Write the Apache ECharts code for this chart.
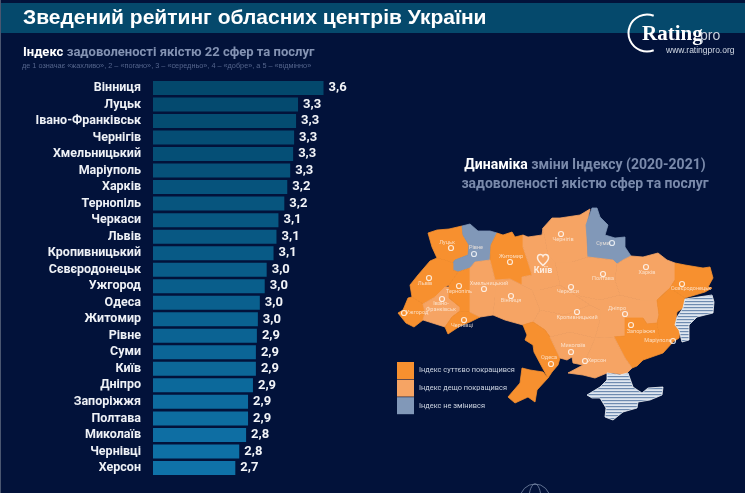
<!DOCTYPE html>
<html>
<head>
<meta charset="utf-8">
<style>
  html, body { margin: 0; padding: 0; background: #02123a; }
  #chart { width: 745px; height: 493px; }
</style>
<script src="https://cdn.jsdelivr.net/npm/echarts@6/dist/echarts.min.js"></script>
</head>
<body>
<div id="chart"></div>
<script>
var cities = ['Вінниця', 'Луцьк', 'Івано-Франківськ', 'Чернігів', 'Хмельницький', 'Маріуполь', 'Харків', 'Тернопіль',
  'Черкаси', 'Львів', 'Кропивницький', 'Сєвєродонецьк', 'Ужгород', 'Одеса', 'Житомир', 'Рівне', 'Суми', 'Київ',
  'Дніпро', 'Запоріжжя', 'Полтава', 'Миколаїв', 'Чернівці', 'Херсон'];
// bar lengths, printed labels are rounded
var scores = [3.60, 3.34, 3.32, 3.30, 3.29, 3.26, 3.23, 3.20, 3.14, 3.12, 3.09, 3.02, 3.00, 2.95, 2.93, 2.92, 2.91, 2.91,
  2.88, 2.83, 2.83, 2.81, 2.74, 2.70];
var scoreLabels = ['3,6', '3,3', '3,3', '3,3', '3,3', '3,3', '3,2', '3,2', '3,1', '3,1', '3,1', '3,0', '3,0', '3,0', '3,0',
  '2,9', '2,9', '2,9', '2,9', '2,9', '2,9', '2,8', '2,8', '2,7'];

var legendNames = ['Індекс суттєво покращився', 'Індекс дещо покращився', 'Індекс не змінився'];
var legendColors = ['#f7902f', '#f6a464', '#8198b8'];

// region outlines
var regionNames = ['Волинська', 'Рівненська', 'Житомирська', 'Львівська', 'Закарпатська', 'Івано-Франківська', 'Тернопільська',
  'Чернівецька', 'Хмельницька', 'Вінницька', 'Київська', 'Чернігівська', 'Сумська', 'Харківська', 'Полтавська', 'Черкаська',
  'Кіровоградська', 'Дніпропетровська', 'Запорізька', 'Луганська', 'Донецька', 'Одеська', 'Бессарабія', 'Миколаївська', 'Херсонська'];
var regionGroups = [0, 2, 0, 0, 0, 1, 0, 0, 1, 1, 1, 1, 2, 1, 1, 1, 1, 1, 0, 0, 0, 0, 0, 1, 1];
var regionOutlines = [
  [[428,233],[437,230],[449,229],[462,226],[463,235],[469,245],[468,255],[455,260],[453,263],[445,260],[437,258],[432,247]],
  [[462,226],[470,224],[478,231],[490,231],[497,233],[491,245],[490,260],[475,262],[470,268],[458,272],[453,270],[453,263],[455,260],[468,255],[469,245],[463,235]],
  [[497,233],[503,235],[512,232],[515,237],[523,235],[523,247],[528,262],[532,275],[522,277],[522,285],[510,279],[495,280],[490,260],[491,245]],
  [[430,261],[437,258],[445,260],[453,263],[453,270],[458,272],[449,285],[445,287],[435,297],[423,304],[412,297],[410,285],[418,275]],
  [[408,298],[412,297],[423,304],[425,312],[423,320],[414,327],[406,323],[402,318],[398,313],[403,310]],
  [[445,287],[449,287],[449,298],[460,307],[460,311],[452,317],[445,327],[423,320],[425,312],[423,304],[435,297]],
  [[458,272],[470,268],[470,312],[460,311],[460,307],[449,298],[449,285]],
  [[460,311],[470,312],[480,317],[470,322],[460,326],[448,334],[445,327],[452,317]],
  [[470,268],[475,262],[490,260],[495,280],[495,297],[493,315],[480,317],[470,312]],
  [[495,280],[510,279],[522,285],[532,290],[540,310],[533,322],[523,325],[505,320],[493,315],[495,297]],
  [[523,235],[528,237],[542,235],[543,228],[548,255],[555,262],[560,285],[540,290],[532,290],[522,285],[522,277],[532,275],[528,262],[523,247]],
  [[543,228],[552,218],[560,218],[580,215],[590,209],[587,223],[587,238],[588,257],[572,262],[555,262],[548,255]],
  [[592,208],[597,208],[600,217],[608,225],[605,235],[615,238],[625,237],[625,247],[631,256],[623,260],[617,264],[613,260],[588,257],[587,238],[586,225]],
  [[617,264],[623,260],[631,256],[643,257],[658,253],[667,260],[675,263],[675,280],[670,288],[657,300],[640,300],[620,295],[615,280]],
  [[588,257],[613,260],[617,264],[615,280],[620,295],[600,300],[575,295],[560,285],[555,262],[572,262]],
  [[532,290],[540,290],[560,285],[575,295],[590,305],[565,315],[540,310]],
  [[540,310],[565,315],[590,305],[600,310],[600,320],[595,338],[570,332],[550,337],[545,330],[533,322]],
  [[575,295],[600,300],[620,295],[640,300],[657,300],[659,315],[657,323],[647,324],[643,318],[625,318],[625,336],[614,337],[595,338],[600,320],[600,310],[590,305]],
  [[614,337],[625,336],[625,318],[643,318],[647,324],[657,323],[660,340],[673,342],[663,353],[643,360],[637,366],[632,368],[625,358]],
  [[675,263],[685,265],[703,268],[710,267],[713,278],[708,287],[712,288],[705,292],[685,298],[670,288],[675,280]],
  [[670,288],[685,298],[683,308],[677,312],[675,326],[680,330],[679,338],[673,342],[660,340],[657,323],[659,315],[657,300]],
  [[523,325],[533,322],[545,330],[550,337],[560,358],[558,365],[552,372],[548,378],[542,367],[534,352],[533,345],[525,340],[527,335]],
  [[522,368],[530,370],[543,372],[548,378],[537,390],[535,402],[528,397],[515,403],[508,397],[520,383]],
  [[550,337],[570,332],[595,338],[590,350],[583,365],[573,363],[572,357],[567,360],[560,358]],
  [[595,338],[614,337],[625,358],[632,368],[625,375],[613,373],[607,373],[595,378],[583,375],[568,373],[583,365],[590,350]]
];
var hatchedNames = ['ОРДЛО', 'Крим'];
var hatchedOutlines = [
  [[685,299],[712,295],[714,302],[713,313],[697,317],[689,325],[689,340],[682,342],[679,330],[675,325],[677,317],[683,308]],
  [[587,395],[600,387],[607,380],[607,373],[620,375],[628,373],[633,387],[642,393],[648,388],[663,387],[662,395],[650,400],[638,402],[637,408],[623,412],[613,420],[605,417],[606,408],[600,398],[592,398]]
];

var mapCities = ['Луцьк', 'Рівне', 'Житомир', 'Львів', 'Тернопіль', 'Хмельницький', 'Вінниця', 'Івано-\nФранківськ', 'Ужгород',
  'Чернівці', 'Одеса', 'Чернігів', 'Суми', 'Полтава', 'Харків', 'Черкаси', 'Кропивницький', 'Дніпро', 'Запоріжжя',
  'Сєвєродонецьк', 'Маріуполь', 'Миколаїв', 'Херсон'];
var mapCityPoints = [[451,248],[474,254],[510,262],[429,278],[459,286],[484,289],[511,296],[442,299],[404,313],
  [464,320],[551,364],[561,234],[612,243],[603,274],[646,267],[571,287],[577,312],[625,314],[631,325],
  [682,284],[673,341],[571,352],[585,361]];
var mapCityLabelPoints = [[447,243],[476,248],[511,257],[425,284],[459,292],[489,284],[511,301],[441,307],[417,313],
  [462,326],[549,358],[563,240],[603,244],[603,279],[647,273],[568,292],[577,318],[617,309],[641,332],
  [691,289],[658,341],[573,346],[597,361]];

var narrow = 'Roboto, "Liberation Sans", sans-serif';
var sans = '"Liberation Sans", Arial, sans-serif';

function toFeature(name, outline) {
  var ring = outline.map(function (p) { return [p[0], -p[1]]; });
  ring.push(ring[0]);
  return { type: 'Feature', properties: { name: name }, geometry: { type: 'Polygon', coordinates: [ring] } };
}

function hatchPattern() {
  var c = document.createElement('canvas');
  c.width = 4;
  c.height = 3;
  var ctx = c.getContext('2d');
  ctx.fillStyle = '#dfe6f0';
  ctx.fillRect(0, 0, 4, 3);
  ctx.fillStyle = '#6f8bb0';
  ctx.fillRect(0, 1, 4, 1.2);
  return c;
}

var features = [];
var geoRegions = [];
regionNames.forEach(function (name, i) {
  var color = legendColors[regionGroups[i]];
  features.push(toFeature(name, regionOutlines[i]));
  // border in the region's own colour closes the seams between neighbours
  geoRegions.push({ name: name, itemStyle: { areaColor: color, borderColor: color, borderWidth: 0.8 } });
});
var pattern = { image: hatchPattern(), repeat: 'repeat' };
hatchedNames.forEach(function (name, i) {
  features.push(toFeature(name, hatchedOutlines[i]));
  geoRegions.push({ name: name, itemStyle: { areaColor: pattern, borderColor: '#eef2f8', borderWidth: 0.8 } });
});
echarts.registerMap('ukraine', { type: 'FeatureCollection', features: features });

var graphics = [
  { type: 'rect', shape: { x: 0, y: 3, width: 745, height: 30 }, style: { fill: '#05496c' } },
  { type: 'rect', shape: { x: 0, y: 0, width: 1, height: 493 }, style: { fill: '#4a5670' } },
  { type: 'text', x: 23, y: 18, style: { text: 'Зведений рейтинг обласних центрів України', fill: '#fff', font: 'bold 21px ' + sans, verticalAlign: 'middle' } },
  { type: 'text', x: 23, y: 53, style: {
    text: '{a|Індекс} {b|задоволеності якістю 22 сфер та послуг}', verticalAlign: 'middle',
    rich: {
      a: { fill: '#fff', font: 'bold 13px ' + narrow },
      b: { fill: '#8493b3', font: 'bold 13px ' + narrow }
    }
  } },
  { type: 'text', x: 22, y: 66, style: { text: 'де 1 означає «жахливо», 2 – «погано», 3 – «середньо», 4 – «добре», а 5 – «відмінно»', fill: '#55658c', font: '7.3px ' + sans, verticalAlign: 'middle' } },
  { type: 'text', x: 585, y: 165, style: {
    text: '{a|Динаміка} {b|зміни Індексу (2020-2021)}', align: 'center', verticalAlign: 'middle',
    rich: {
      a: { fill: '#fff', font: 'bold 14px ' + narrow },
      b: { fill: '#7a8aab', font: 'bold 14px ' + narrow }
    }
  } },
  { type: 'text', x: 585, y: 184, style: { text: 'задоволеності якістю сфер та послуг', align: 'center', verticalAlign: 'middle', fill: '#7a8aab', font: 'bold 14px ' + narrow } },
  // logo
  { type: 'arc', shape: { cx: 647, cy: 33, r: 18.5, startAngle: -1.2, endAngle: 1.2, clockwise: false }, style: { fill: 'none', stroke: '#fff', lineWidth: 2 } },
  { type: 'text', x: 642, y: 35, style: { text: 'Rating', fill: '#fff', font: 'bold 21px "Liberation Serif", serif', verticalAlign: 'middle' } },
  { type: 'text', x: 700, y: 36, style: { text: 'pro', fill: '#c9d2de', font: '14px ' + sans, verticalAlign: 'middle' } },
  { type: 'text', x: 666, y: 51, style: { text: 'www.ratingpro.org', fill: '#d3dae6', font: '8.5px ' + sans, verticalAlign: 'middle' } },
  // globe at the bottom edge
  { type: 'circle', shape: { cx: 535, cy: 499, r: 15 }, style: { fill: 'none', stroke: '#8798b5', lineWidth: 0.7 } },
  { type: 'ellipse', shape: { cx: 535, cy: 499, rx: 6, ry: 15 }, style: { fill: 'none', stroke: '#8798b5', lineWidth: 0.7 } }
];
legendNames.forEach(function (name, i) {
  var top = 362 + i * 17.6;
  graphics.push({ type: 'rect', shape: { x: 397, y: top, width: 17, height: 17 }, style: { fill: legendColors[i] } });
  graphics.push({ type: 'text', x: 419, y: top + 8.5, style: { text: name, fill: '#ccd3e0', font: '7.4px ' + narrow, verticalAlign: 'middle' } });
});

var chart = echarts.init(document.getElementById('chart'));
chart.setOption({
  backgroundColor: '#02123a',
  animation: false,
  graphic: graphics,
  grid: { left: 153, top: 79.7, width: 196, height: 396.5, containLabel: false },
  xAxis: { type: 'value', min: 1.86, max: 3.86, show: false },
  yAxis: {
    type: 'category',
    inverse: true,
    data: cities,
    axisLine: { show: false },
    axisTick: { show: false },
    axisLabel: { interval: 0, margin: 12, color: '#eef1f6', fontFamily: narrow, fontWeight: 'bold', fontSize: 12.5 }
  },
  geo: {
    map: 'ukraine',
    roam: false,
    silent: true,
    aspectScale: 1,
    boundingCoords: [[0, 0], [745, -493]],
    left: 0,
    top: 0,
    width: 745,
    height: 493,
    label: { show: false },
    itemStyle: { areaColor: legendColors[1], borderColor: legendColors[1], borderWidth: 0.8 },
    regions: geoRegions
  },
  series: [
    {
      type: 'bar',
      data: scores,
      barWidth: 14,
      itemStyle: {
        color: function (p) { return echarts.color.lerp(p.dataIndex / (cities.length - 1), ['#03486c', '#0f72a8']); }
      },
      label: {
        show: true,
        position: 'right',
        distance: 5,
        color: '#f2f4f8',
        fontFamily: narrow,
        fontWeight: 'bold',
        fontSize: 13,
        formatter: function (p) { return scoreLabels[p.dataIndex]; }
      }
    },
    {
      type: 'scatter',
      coordinateSystem: 'geo',
      silent: true,
      symbol: 'circle',
      symbolSize: 5,
      itemStyle: { color: 'transparent', borderColor: '#fff', borderWidth: 1.2 },
      data: mapCityPoints.map(function (p) { return [p[0], -p[1]]; })
    },
    {
      type: 'scatter',
      coordinateSystem: 'geo',
      silent: true,
      symbolSize: 0,
      label: {
        show: true,
        position: 'inside',
        color: '#fdeee0',
        fontFamily: narrow,
        fontSize: 5.5,
        lineHeight: 6,
        formatter: function (p) { return mapCities[p.dataIndex]; }
      },
      data: mapCityLabelPoints.map(function (p) { return [p[0], -p[1]]; })
    },
    {
      // Kyiv gets its own heart mark and a bold caption
      type: 'scatter',
      coordinateSystem: 'geo',
      silent: true,
      symbol: 'path://M12 21C8 17 1 13 1 7C1 3 4 1 7 1C9 1 11 2 12 4C13 2 15 1 17 1C20 1 23 3 23 7C23 13 16 17 12 21Z',
      symbolSize: [11, 11],
      itemStyle: { color: 'transparent', borderColor: '#fff', borderWidth: 1.5 },
      label: { show: true, position: 'bottom', distance: 0, formatter: 'Київ', color: '#fff', fontFamily: narrow, fontWeight: 'bold', fontSize: 9 },
      data: [[543, -260]]
    }
  ]
});
</script>
</body>
</html>
